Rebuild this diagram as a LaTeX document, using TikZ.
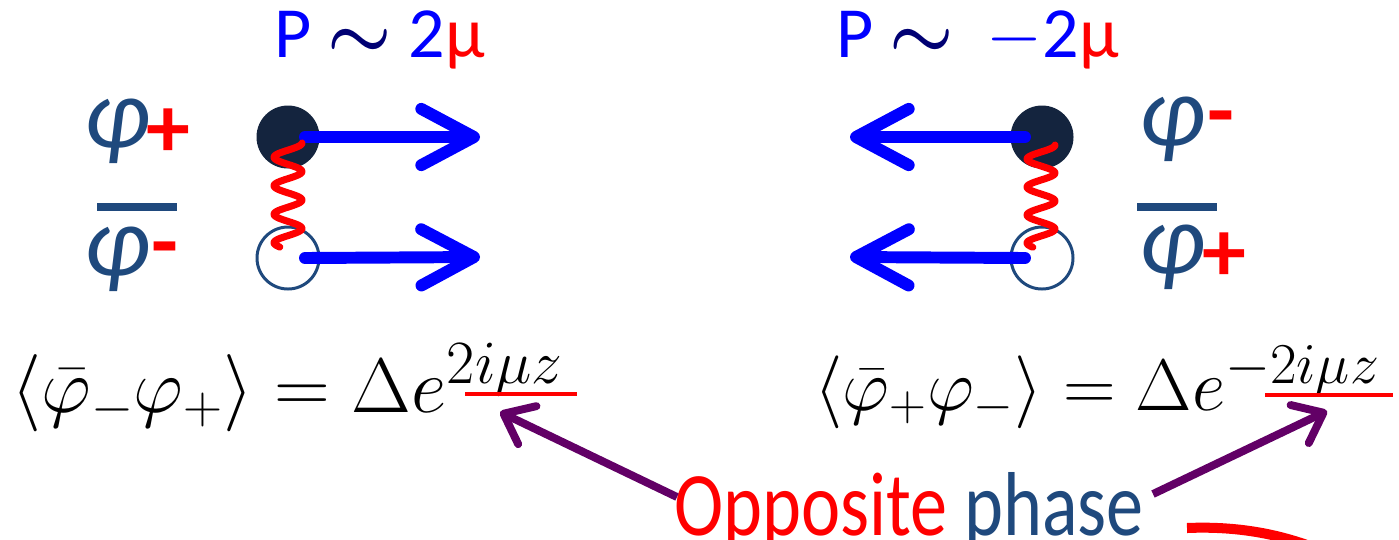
\RequirePackage{fix-cm}
\documentclass[tikz,border=0pt]{standalone}
\usepackage{graphicx}
\usepackage[no-math]{fontspec}
\setmainfont{Carlito}
\usetikzlibrary{arrows.meta}
\definecolor{navy}{HTML}{14243E}
\definecolor{txtblue}{HTML}{1F497D}
\definecolor{arrblue}{HTML}{0000FF}
\definecolor{phred}{HTML}{FF0000}
\definecolor{plum}{HTML}{620066}
% exponent set larger than a plain superscript
\newcommand{\phaseexp}[2]{\mbox{\fontsize{#1}{#1}\selectfont$\scriptstyle #2$}}

\begin{document}
\begin{tikzpicture}[
  x=0.02cm, y=-0.02cm,
  momentum/.style={arrblue, line width=6.8pt, line cap=round,
    -{Straight Barb[length=30pt, width=32pt, line join=round, line cap=round]}},
  pointer/.style={plum, line width=4.5pt,
    -{Straight Barb[length=15pt, width=24pt, line join=round, line cap=round]}},
  spring/.style={phred, line width=4pt, line cap=round, line join=round},
  title/.style={arrblue, inner sep=0pt, font=\fontsize{41}{49}\selectfont},
  field/.style={txtblue, inner sep=0pt, font=\fontsize{57}{66}\selectfont\itshape},
  sign/.style={phred, inner sep=0pt, font=\fontsize{50}{60}\selectfont\bfseries},
  formula/.style={inner sep=0pt}
]

\useasboundingbox (0,0) rectangle (1399,539);

% ── Momentum labels ──
\node[title, anchor=base west] (momL) at (274,57)
  {P {\color{arrblue!45!black}\boldmath$\sim$} 2{\color{phred}μ}};
\node[title, anchor=base west] (momR) at (836,57)
  {P {\color{arrblue!45!black}\boldmath$\sim$} \ $-$2{\color{phred}μ}};

% ── Left pair: phi_+ over phi-bar_- ──
\node[field, anchor=base west] (phiLt) at (84,147) {φ};
\node[sign] (sgnLt) at (168,133) {+};
\draw[txtblue, line width=4pt] (97,207) -- (177,207);
\node[field, anchor=base west] (phiLb) at (84,275) {φ};
\node[sign] (sgnLb) at (165,257) {-};

\node[circle, fill=navy, minimum size=63*0.02cm, inner sep=0pt] (qLt) at (288,137) {};
\node[circle, draw=txtblue, line width=1.7pt, minimum size=62*0.02cm, inner sep=0pt] (qLb) at (288,258) {};

\coordinate (pLt) at (480,137);
\coordinate (pLb) at (480,257);
\draw[momentum] ([xshift=0.34cm]qLt.center) -- (pLt);
\draw[momentum] ([xshift=0.34cm]qLb.center) -- (pLb);

% pairing line
\draw[spring] plot[domain=0:3.65, samples=120, smooth]
  ({288+14*cos(360*\x)}, {143+28.5*\x});

% ── Right pair: phi_- over phi-bar_+ ──
\node[field, anchor=base west] (phiRt) at (1139,145) {φ};
\node[sign] (sgnRt) at (1221,126) {-};
\draw[txtblue, line width=4pt] (1137,207) -- (1217,207);
\node[field, anchor=base west] (phiRb) at (1139,273) {φ};
\node[sign] (sgnRb) at (1224,257) {+};

\node[circle, fill=navy, minimum size=63*0.02cm, inner sep=0pt] (qRt) at (1042,137) {};
\node[circle, draw=txtblue, line width=1.7pt, minimum size=62*0.02cm, inner sep=0pt] (qRb) at (1042,258) {};

\coordinate (pRt) at (850,137);
\coordinate (pRb) at (850,257);
\draw[momentum] ([xshift=-0.34cm]qRt.center) -- (pRt);
\draw[momentum] ([xshift=-0.34cm]qRb.center) -- (pRb);

\draw[spring] plot[domain=0:3.65, samples=120, smooth]
  ({1041+14*cos(360*\x)}, {145+28*\x});

% ── Condensates ──
\node[formula, anchor=base west, font=\fontsize{44}{52}\selectfont] (condL) at (11,412)
  {$\langle\bar\varphi_-\varphi_+\rangle = \Delta e^{\phaseexp{50}{2i\mu z}}$};
\node[formula, anchor=base west, font=\fontsize{41.5}{50}\selectfont] (condR) at (814,410)
  {$\langle\bar\varphi_+\varphi_-\rangle = \Delta e^{\phaseexp{47}{-2i\mu z}}$};

\coordinate (ulL1) at (465,394);
\coordinate (ulL2) at (577,394);
\coordinate (ulR1) at (1265,395);
\coordinate (ulR2) at (1393,395);
\draw[phred, line width=2.8pt] (ulL1) -- (ulL2);
\draw[phred, line width=2.8pt] (ulR1) -- (ulR2);

% ── Opposite phase ──
\node[inner sep=0pt, anchor=base west, font=\fontsize{41}{49}\selectfont] (opp) at (674,535)
  {\scalebox{1.03}[1.26]{{\color{phred}Opposite} {\color{txtblue}phase}}};

\coordinate (tailL) at (677,497);
\coordinate (tailR) at (1153,494);
\coordinate (tipL) at (500,412);
\coordinate (tipR) at (1327,411);
\draw[pointer] (tailL) -- (tipL);
\draw[pointer] (tailR) -- (tipR);

% red swoosh, cut by the frame
\begin{scope}
  \clip (0,0) rectangle (1399,539);
  \draw[phred, line width=5.7pt] (1187,528) .. controls (1235,526) and (1280,533) .. (1325,552);
\end{scope}

\end{tikzpicture}
\end{document}
